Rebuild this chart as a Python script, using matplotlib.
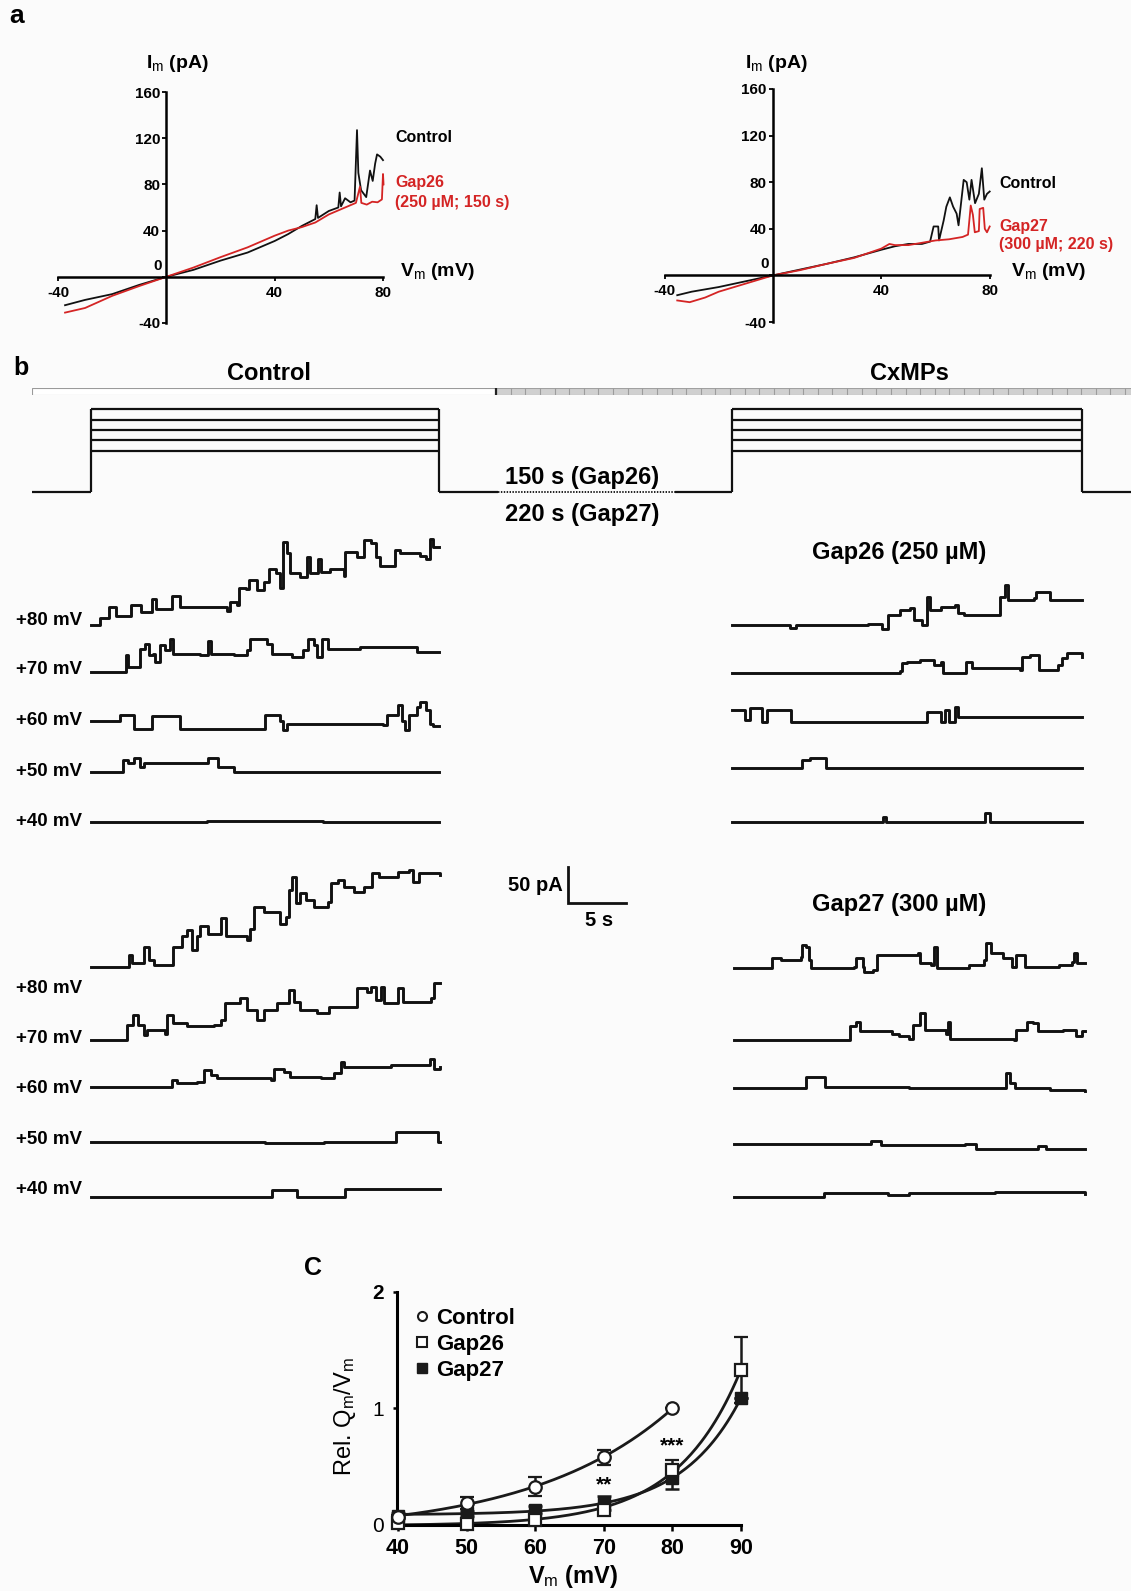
import numpy as np
import matplotlib
matplotlib.use('Agg')
import matplotlib.pyplot as plt
from matplotlib.lines import Line2D
from matplotlib.patches import Rectangle

plt.rcParams['font.family'] = ['Liberation Sans', 'DejaVu Sans']
plt.rcParams['mathtext.fontset'] = 'custom'
plt.rcParams['mathtext.rm'] = 'Liberation Sans'
plt.rcParams['mathtext.bf'] = 'Liberation Sans:bold'
plt.rcParams['mathtext.it'] = 'Liberation Sans:italic'

# ---------------------------------------------------------------- data
# Panel a: I-V ramps (mV, pA)
IV1_CTRL_V = [-37.4, -30, -20, -10, 0, 10, 20, 30, 40, 45, 50, 55, 55.5, 56, 60, 63.5, 64, 64.5, 66, 68, 69.5, 70.4, 70.9, 71.9, 73.8, 75.2, 76.2, 77.1, 77.8, 79, 80]
IV1_CTRL_I = [-24.6, -20, -15, -7, 0, 6, 14, 21, 31, 37, 44, 50, 62, 51, 57, 60, 73, 61, 68, 64.5, 66, 127, 90, 75, 69, 92, 83, 98, 106, 104, 101]
IV1_GAP_V = [-37.4, -30, -20, -10, 0, 10, 20, 30, 40, 45, 50, 55, 60, 65, 70, 71.5, 72, 74, 76, 78, 79.6, 80, 80.2]
IV1_GAP_I = [-31, -27, -16.5, -8, 0, 8, 17, 25.5, 35.6, 40, 43, 47, 54, 59, 64, 78, 64, 62.5, 65, 64.5, 67, 89, 80]

IV2_CTRL_V = [-35.3, -30, -20, -10, 0, 10, 20, 30, 40, 45, 50, 55, 58, 59.3, 61, 61.3, 63, 64, 65.3, 66.5, 67.8, 68.5, 70.4, 71.5, 72.5, 73.3, 74.6, 76, 77.1, 78, 79, 80]
IV2_CTRL_I = [-17, -14, -10, -5, 0, 5, 10, 15.5, 22, 25, 27, 27, 29, 42, 42, 30, 47, 59, 67, 59, 53, 43, 82, 80, 65, 82, 62, 70, 92, 65, 70, 72]
IV2_GAP_V = [-35.3, -30.7, -25, -20, -10, 0, 10, 20, 30, 40, 43, 45, 50, 55, 60, 65, 70, 72, 73, 73.8, 74.5, 76, 76.3, 77.6, 78.2, 79, 80]
IV2_GAP_I = [-21.5, -23, -19, -14, -7, 0, 4.5, 10, 15, 23, 27, 26, 26, 28, 30, 31, 33, 35, 60, 52, 37, 38, 57, 58, 40, 37, 42]

# Panel b: voltage protocol (mV) and schematic timing (s)
STEP_MV = [40, 50, 60, 70, 80]
CTRL_STEP_S = [0, 30]
CXMP_STEP_S = [55.2, 85.4]
WASH_S = [35.1, 50.3]

# Panel b: single-channel current traces (time s, current pA relative to start level)
C1_80_T = [0, 0.8, 1.6, 2.2, 3.5, 4.3, 5.3, 5.6, 7.0, 7.7, 11.7, 12.0, 12.6, 12.8, 13.4, 13.6, 14.3, 14.9, 15.4, 16.0, 16.3, 16.6, 16.9, 17.2, 18.0, 18.6, 18.9, 19.6, 19.8, 20.6, 21.8, 21.9, 22.9, 23.5, 24.1, 24.6, 24.9, 26.2, 26.6, 28.4, 28.9, 29.2, 29.5, 30]
C1_80_I = [0, 10, 25, 12, 28, 18, 36, 22, 40, 25, 20, 32, 28, 52, 50, 62, 48, 60, 78, 72, 52, 115, 100, 72, 66, 95, 72, 92, 74, 78, 68, 102, 95, 118, 114, 95, 82, 104, 100, 96, 92, 120, 108, 108]
C1_70_T = [0, 3.0, 3.2, 4.25, 4.7, 5.0, 5.4, 5.55, 6.0, 6.4, 6.85, 7.1, 9.4, 10.1, 10.4, 12.3, 13.45, 13.7, 15.15, 15.6, 17.3, 18.3, 18.75, 19.2, 19.45, 19.9, 20.45, 23.2, 28.1, 30]
C1_70_I = [0, 23, 7, 32, 39, 23, 25, 14, 37, 30, 46, 25, 23, 42, 25, 23, 30, 46, 39, 25, 21, 30, 46, 37, 21, 46, 32, 35, 28, 28]
C1_60_T = [0, 2.5, 3.7, 5.25, 7.7, 15.0, 16.3, 16.6, 16.9, 25.2, 25.5, 26.5, 26.8, 27.1, 27.4, 28.1, 28.4, 28.9, 29.2, 29.5, 30]
C1_60_I = [0, 8, -11, 6, -11, 8, -1, -13, -5, -6, 8, 22, -1, -13, 8, 19, 26, 15, -4, -8, -8]
C1_50_T = [0, 2.8, 3.25, 3.7, 4.25, 4.55, 10.1, 11.0, 12.3, 30]
C1_50_I = [0, 16, 12, 19, 7, 12, 19, 7, 0, 0]
C1_40_T = [0, 10, 20, 30]
C1_40_I = [0, 1, 0, 0]

G26_80_T = [0, 5.0, 5.5, 11.7, 12.9, 13.4, 14.4, 15.3, 15.6, 16.3, 16.7, 17.0, 17.9, 19.1, 19.4, 19.9, 22.9, 23.0, 23.4, 23.7, 25.9, 26.1, 27.3, 30]
G26_80_I = [0, -4, 0, 2, -5, 14, 21, 23, 7, 0, 39, 21, 25, 28, 16, 14, 14, 39, 56, 35, 37, 46, 35, 35]
G26_70_T = [0, 14.4, 14.6, 15.0, 16.1, 17.3, 17.9, 18.1, 20.1, 20.6, 24.7, 24.9, 25.6, 26.3, 28.0, 28.3, 28.7, 30]
G26_70_I = [0, 3, 14, 16, 19, 12, 16, 0, 16, 7, 5, 23, 25, 5, 12, 21, 28, 23]
G26_60_T = [0, 1.1, 1.6, 2.6, 3.0, 5.1, 16.7, 17.9, 18.3, 18.6, 19.1, 19.4, 30]
G26_60_I = [16, 2, 19, 0, 16, 0, 14, 0, 16, 0, 21, 7, 7]
G26_50_T = [0, 6.0, 6.7, 8.1, 30]
G26_50_I = [0, 12, 14, 1, 1]
G26_40_T = [0, 13.0, 13.2, 21.7, 22.1, 30]
G26_40_I = [0, 7, 0, 12, 0, 0]

C2_80_T = [0, 3.1, 3.25, 3.55, 4.4, 4.55, 5.0, 5.4, 7.0, 7.1, 7.85, 8.3, 8.7, 9.15, 9.4, 10.1, 11.0, 11.15, 11.6, 13.45, 13.7, 14.0, 14.9, 16.3, 16.75, 17.0, 17.3, 17.6, 18.0, 18.45, 19.2, 20.35, 20.6, 21.2, 21.75, 22.6, 23.5, 24.2, 24.8, 26.35, 27.35, 27.65, 28.2, 30]
C2_80_I = [0, 0, 16, 5, 5, 28, 9, 2, 2, 28, 42, 51, 23, 42, 56, 46, 46, 67, 42, 37, 53, 83, 76, 60, 69, 106, 125, 88, 102, 93, 83, 90, 116, 120, 111, 104, 111, 130, 125, 132, 134, 118, 130, 127]
C2_70_T = [0, 2.95, 3.1, 3.65, 4.1, 4.55, 4.8, 6.4, 6.55, 7.1, 8.25, 10.55, 11.15, 11.55, 12.85, 13.45, 14.3, 14.85, 16.0, 17.0, 17.45, 18.0, 19.45, 20.45, 22.6, 22.9, 23.75, 24.05, 24.5, 24.9, 25.2, 26.35, 26.8, 29.2, 29.5, 30]
C2_70_I = [0, 0, 21, 35, 21, 7, 14, 9, 35, 23, 19, 21, 28, 51, 58, 42, 28, 42, 51, 69, 53, 42, 37, 46, 46, 72, 67, 74, 56, 74, 51, 72, 53, 58, 79, 79]
C2_60_T = [0, 6.7, 7.0, 7.4, 9.1, 9.7, 10.3, 10.85, 15.45, 15.75, 16.6, 17.15, 19.75, 20.9, 21.5, 21.75, 25.8, 28.8, 29.1, 29.5, 30]
C2_60_I = [0, 0, 9, 5, 7, 23, 16, 12, 9, 25, 21, 14, 12, 19, 35, 28, 30, 30, 39, 25, 28]
C2_50_T = [0, 15.0, 20.0, 26.2, 29.8, 30]
C2_50_I = [0, -2, 0, 14, 0, 0]
C2_40_T = [0, 15.6, 17.7, 21.85, 30]
C2_40_I = [0, 9, -1, 11, 11]

G27_80_T = [0, 3.3, 4.0, 5.7, 5.85, 6.2, 6.4, 6.6, 10.25, 10.45, 11.0, 11.15, 11.9, 12.25, 15.75, 15.9, 16.85, 17.1, 17.4, 20.1, 21.4, 21.6, 21.95, 23.05, 23.8, 24.15, 24.9, 27.8, 28.9, 29.1, 29.3, 30]
G27_80_I = [0, 14, 12, 16, 32, 30, 12, 0, 2, 14, 2, -5, -3, 19, 21, 7, 5, 30, 0, 5, 12, 35, 21, 14, 2, 19, 2, 5, 9, 21, 7, 8]
G27_70_T = [0, 9.7, 9.9, 10.45, 10.8, 13.55, 14.1, 15.0, 15.35, 15.9, 16.3, 18.1, 18.3, 18.5, 23.95, 24.15, 25.05, 25.6, 26.0, 28.15, 29.25, 29.8, 30]
G27_70_I = [0, 0, 19, 25, 12, 9, 5, 2, 21, 37, 14, 9, 25, 2, 0, 14, 25, 23, 12, 14, 5, 12, 12]
G27_60_T = [0, 6.2, 7.75, 15.0, 23.25, 23.6, 24.0, 27.0, 30]
G27_60_I = [0, 16, 2, 0, 21, 8, 0, -3, -4]
G27_50_T = [0, 11.7, 12.6, 19.8, 20.7, 26.0, 26.7, 30]
G27_50_I = [2, 5, 0, 2, -5, -2, -5, -6]
G27_40_T = [0, 7.7, 13.2, 15.0, 22.3, 30]
G27_40_I = [-2, 4, 1, 4, 5, 3]

TRACE_LABELS = ['+80 mV', '+70 mV', '+60 mV', '+50 mV', '+40 mV']

# Panel c: relative Qm/Vm
VM = [40, 50, 60, 70, 80, 90]
CTRL_Q = [0.07, 0.19, 0.33, 0.58, 1.00]
CTRL_ERR = [0.02, 0.05, 0.08, 0.065, 0.0]
GAP26_Q = [0.02, 0.01, 0.04, 0.13, 0.47, 1.33]
GAP26_ERR = [0.01, 0.01, 0.02, 0.04, 0.09, 0.28]
GAP27_Q = [0.08, 0.10, 0.13, 0.19, 0.40, 1.09]
GAP27_ERR = [0.02, 0.02, 0.03, 0.06, 0.09, 0.0]

# ---------------------------------------------------------------- figure
W, H = 1131, 1591
BG = '#fbfbfb'
RED = '#d42424'
INK = '#111111'

fig = plt.figure(figsize=(W / 100, H / 100), dpi=100, facecolor=BG)


def ax_px(x0, x1, y0, y1):
    ax = fig.add_axes([x0 / W, 1 - y1 / H, (x1 - x0) / W, (y1 - y0) / H])
    ax.set_facecolor('none')
    return ax


def txt(x, y, s, ha='left', va='center', size=12, weight='bold', **kw):
    fig.text(x / W, 1 - y / H, s, ha=ha, va=va, fontsize=size, fontweight=weight, **kw)


# ------------------------------------------------ panel a
def iv_axes(x0, x1, y0, y1, vc, ic, vg, ig):
    ax = ax_px(x0, x1, y0, y1)
    ax.set_xlim(-40, 80)
    ax.set_ylim(-40, 160)
    for s in ['top', 'right']:
        ax.spines[s].set_visible(False)
    ax.spines['left'].set_position(('data', 0))
    ax.spines['bottom'].set_position(('data', 0))
    for s in ['left', 'bottom']:
        ax.spines[s].set_linewidth(1.8)
    ax.plot(vc, ic, color=INK, lw=1.3, clip_on=False)
    ax.plot(vg, ig, color=RED, lw=1.3, clip_on=False)
    ax.set_xticks([-40, 40, 80])
    ax.set_xticklabels(['-40', '40', '80'])
    ax.set_yticks([-40, 0, 40, 80, 120, 160])
    ax.set_yticklabels(['-40', '', '40', '80', '120', '160'])
    ax.tick_params(axis='y', length=3, width=1.3, labelsize=11, pad=1.5)
    ax.tick_params(axis='x', length=3, width=1.3, labelsize=11, pad=3.5)
    for lab in ax.get_xticklabels() + ax.get_yticklabels():
        lab.set_fontweight('bold')
    ax.annotate('0', xy=(0, 0), xytext=(-3, 8), textcoords='offset points',
                ha='right', va='center', fontsize=11, fontweight='bold')
    return ax


iv_axes(58, 383, 92, 323, IV1_CTRL_V, IV1_CTRL_I, IV1_GAP_V, IV1_GAP_I)
iv_axes(664.5, 989.7, 89, 322, IV2_CTRL_V, IV2_CTRL_I, IV2_GAP_V, IV2_GAP_I)

txt(17, 16, 'a', ha='center', size=19)
txt(177, 63, r'I$_{\mathrm{m}}$ (pA)', ha='center', size=14)
txt(776, 63, r'I$_{\mathrm{m}}$ (pA)', ha='center', size=14)
txt(400, 272, r'V$_{\mathrm{m}}$ (mV)', size=14)
txt(1011, 272, r'V$_{\mathrm{m}}$ (mV)', size=14)
txt(395, 137, 'Control', size=11.5)
txt(395, 183, 'Gap26', size=11.5, color=RED)
txt(395, 202, '(250 µM; 150 s)', size=11.5, color=RED)
txt(999, 183, 'Control', size=11.5)
txt(999, 227, 'Gap27', size=11.5, color=RED)
txt(999, 245, '(300 µM; 220 s)', size=11.5, color=RED)

# ------------------------------------------------ panel b: headers, bar, protocol
txt(21, 368, 'b', ha='center', size=18)
txt(269, 374, 'Control', ha='center', size=17)
txt(909, 374, 'CxMPs', ha='center', size=17)

T0_PX, T_PX = 90.7, 11.61
TL, TR = (32 - T0_PX) / T_PX, (1131 - T0_PX) / T_PX
SPLIT_S = (496 - T0_PX) / T_PX

bar = ax_px(32, 1131, 388, 394.5)
bar.set_xlim(TL, TR)
bar.set_ylim(0, 1)
bar.axis('off')
bar.add_patch(Rectangle((TL, 0), SPLIT_S - TL, 1, fc='white', ec='#9a9a9a', lw=0.8))
bar.add_patch(Rectangle((SPLIT_S, 0), TR - SPLIT_S + 1, 1, fc='#d0d0d0', ec='#a0a0a0', lw=0.8))
bar.vlines(np.arange(SPLIT_S + 1.26, TR, 1.26), 0, 1, color='#9c9c9c', lw=0.8)
bar.vlines([SPLIT_S], 0, 1, color='#222222', lw=1.6)

MV_PX, BASE_PX = 1.03, 491.7
prot = ax_px(32, 1131, 380, 500)
prot.set_xlim(TL, TR)
prot.set_ylim((BASE_PX - 500) / MV_PX, (BASE_PX - 380) / MV_PX)
prot.axis('off')
for t0, t1 in [(TL, CTRL_STEP_S[0]), (CTRL_STEP_S[1], WASH_S[0]),
               (WASH_S[1], CXMP_STEP_S[0]), (CXMP_STEP_S[1], TR)]:
    prot.plot([t0, t1], [0, 0], color=INK, lw=1.6, solid_capstyle='butt')
prot.plot(WASH_S, [0, 0], color=INK, lw=1.3, ls=(0, (0.8, 0.8)))
for t0, t1 in [CTRL_STEP_S, CXMP_STEP_S]:
    prot.vlines([t0, t1], 0, max(STEP_MV), color=INK, lw=1.6)
    prot.hlines(STEP_MV, t0, t1, color=INK, lw=1.6)

txt(582, 477, '150 s (Gap26)', ha='center', size=17)
txt(582, 514, '220 s (Gap27)', ha='center', size=17)

# ------------------------------------------------ panel b: traces
PX_PER_PA = 0.72


def trace_block(x0, x1, bases, traces):
    ytop = min(bases) - 150 * PX_PER_PA
    ybot = max(bases) + 20
    ax = ax_px(x0, x1, ytop, ybot)
    ax.set_xlim(0, 30)
    ax.set_ylim(0, (ybot - ytop) / PX_PER_PA)
    ax.axis('off')
    for base, (t, i) in zip(bases, traces):
        off = (ybot - base) / PX_PER_PA
        ax.step(t, np.asarray(i, float) + off, where='post', color=INK, lw=2.1,
                clip_on=False)
    return ax


trace_block(90.7, 439, [625, 671.7, 720.7, 771.7, 821.7],
            [(C1_80_T, C1_80_I), (C1_70_T, C1_70_I), (C1_60_T, C1_60_I),
             (C1_50_T, C1_50_I), (C1_40_T, C1_40_I)])
trace_block(731.7, 1081.7, [625, 673.3, 721.7, 768.3, 821.7],
            [(G26_80_T, G26_80_I), (G26_70_T, G26_70_I), (G26_60_T, G26_60_I),
             (G26_50_T, G26_50_I), (G26_40_T, G26_40_I)])
trace_block(90.7, 440, [966.7, 1040, 1086.7, 1141.7, 1196.7],
            [(C2_80_T, C2_80_I), (C2_70_T, C2_70_I), (C2_60_T, C2_60_I),
             (C2_50_T, C2_50_I), (C2_40_T, C2_40_I)])
trace_block(733.9, 1084.7, [968.3, 1040, 1088.3, 1145, 1196],
            [(G27_80_T, G27_80_I), (G27_70_T, G27_70_I), (G27_60_T, G27_60_I),
             (G27_50_T, G27_50_I), (G27_40_T, G27_40_I)])

for lab, y in zip(TRACE_LABELS, [620, 670, 720.7, 771.7, 821.7]):
    txt(82, y, lab, ha='right', size=13.5)
for lab, y in zip(TRACE_LABELS, [988.3, 1038.3, 1088.3, 1140, 1190]):
    txt(82, y, lab, ha='right', size=13.5)

txt(899, 552, 'Gap26 (250 µM)', ha='center', size=17)
txt(899, 905, 'Gap27 (300 µM)', ha='center', size=17)

# scale bar: 50 pA x 5 s
sb = ax_px(568, 568 + 5 * T_PX, 867, 867 + 50 * PX_PER_PA)
sb.set_xlim(0, 5)
sb.set_ylim(0, 50)
sb.axis('off')
sb.plot([0, 0, 5], [50, 0, 0], color=INK, lw=2.0, clip_on=False, solid_joinstyle='miter')
txt(563, 885, '50 pA', ha='right', size=14.5)
txt(599, 920, '5 s', ha='center', size=14.5)

# ------------------------------------------------ panel c
def exp_fit(x, y):
    x = np.asarray(x, float)
    y = np.asarray(y, float)
    best = None
    for b in np.linspace(0.01, 0.35, 700):
        A = np.column_stack([np.ones_like(x), np.exp(b * (x - 40))])
        coef, *_ = np.linalg.lstsq(A, y, rcond=None)
        r = np.sum((A @ coef - y) ** 2)
        if best is None or r < best[0]:
            best = (r, b, coef)
    _, b, coef = best
    return lambda xx: coef[0] + coef[1] * np.exp(b * (np.asarray(xx) - 40))


axc = ax_px(396.7, 741, 1291.7, 1525)
axc.set_xlim(39.8, 90)
axc.set_ylim(0, 2)
for s in ['top', 'right']:
    axc.spines[s].set_visible(False)
for s in ['left', 'bottom']:
    axc.spines[s].set_linewidth(2.2)

vm = np.asarray(VM, float)
for vx, q in [(vm[:5], CTRL_Q), (vm, GAP26_Q), (vm, GAP27_Q)]:
    f = exp_fit(vx, q)
    xs = np.linspace(40, vx[-1], 200)
    axc.plot(xs, f(xs), color='#1a1a1a', lw=2.0, clip_on=False, zorder=2)

axc.errorbar(vm, GAP27_Q, yerr=GAP27_ERR, fmt='s', ms=8, mfc='#1a1a1a', mec='#1a1a1a',
             ecolor='#1a1a1a', elinewidth=1.8, capsize=5, capthick=1.8, clip_on=False, zorder=3)
axc.errorbar(vm, GAP26_Q, yerr=GAP26_ERR, fmt='s', ms=8.5, mfc='white', mec='#1a1a1a', mew=1.6,
             ecolor='#1a1a1a', elinewidth=1.8, capsize=5, capthick=1.8, clip_on=False, zorder=4)
axc.errorbar(vm[:5], CTRL_Q, yerr=CTRL_ERR, fmt='o', ms=9, mfc='white', mec='#1a1a1a', mew=1.6,
             ecolor='#1a1a1a', elinewidth=1.8, capsize=5, capthick=1.8, clip_on=False, zorder=4)

axc.set_xticks(VM)
axc.set_xticklabels([str(v) for v in VM])
axc.set_yticks([0, 1, 2])
axc.set_yticklabels(['0', '1', '2'])
axc.tick_params(axis='x', length=4, width=1.8, labelsize=15.5, pad=5)
axc.tick_params(axis='y', length=3, width=1.8, labelsize=15, pad=6)
for lab in axc.get_xticklabels():
    lab.set_fontweight('bold')
axc.get_yticklabels()[2].set_fontweight('bold')

axc.text(70, 0.34, '**', ha='center', va='center', fontsize=15, fontweight='bold')
axc.text(80, 0.68, '***', ha='center', va='center', fontsize=15, fontweight='bold')

handles = [
    Line2D([], [], marker='o', ls='none', ms=6.5, mfc='white', mec='#1a1a1a', mew=1.5),
    Line2D([], [], marker='s', ls='none', ms=7, mfc='white', mec='#1a1a1a', mew=1.5),
    Line2D([], [], marker='s', ls='none', ms=7, mfc='#1a1a1a', mec='#1a1a1a'),
]
leg = axc.legend(handles, ['Control', 'Gap26', 'Gap27'], loc='upper left',
                 bbox_to_anchor=(414 / W, 1 - 1308 / H), bbox_transform=fig.transFigure,
                 frameon=False, borderpad=0, borderaxespad=0, handlelength=0.7,
                 handletextpad=0.3, labelspacing=0.22,
                 prop={'size': 16, 'weight': 'bold'})

txt(313, 1268, 'C', ha='center', size=18)
txt(573, 1577, r'V$_{\mathrm{m}}$ (mV)', ha='center', size=17)
txt(345, 1417, r'Rel. Q$_{\mathrm{m}}$/V$_{\mathrm{m}}$', ha='center', size=17,
    weight='normal', rotation=90)

fig.savefig('out.png', dpi=100, facecolor=BG)
